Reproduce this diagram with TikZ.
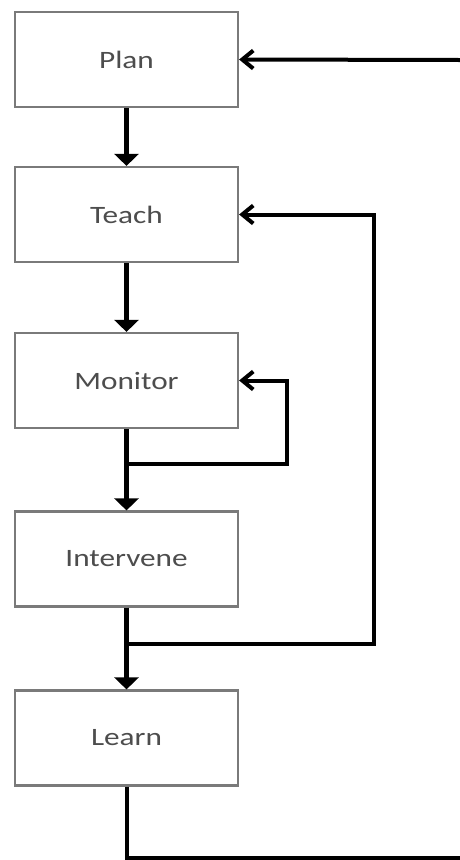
\documentclass[tikz,border=0pt]{standalone}
\usepackage{fontspec}
\newfontfamily\boxfont[FakeStretch=1.25]{Carlito}
\usetikzlibrary{arrows.meta}
\definecolor{boxline}{HTML}{7A7A7A}
\definecolor{boxtext}{HTML}{4D4D4D}
\begin{document}
\begin{tikzpicture}[x=1pt,y=-1pt,
  stage/.style={draw=boxline, line width=2.2pt, fill=white,
    minimum width=223pt, minimum height=95pt, inner sep=0pt,
    font=\boxfont\fontsize{25}{28}\selectfont, text=boxtext},
  flow/.style={line width=4.5pt, -{Triangle[width=24pt,length=12pt]}},
  back/.style={line width=4pt, -{Straight Barb[length=11pt,width=18pt]}},
  plain/.style={line width=4pt}]
  \useasboundingbox (0,0) rectangle (459,860);

  % the five stages of the cycle
  \node[stage] (plan)      at (126.5,59.5)  {Plan};
  \node[stage] (teach)     at (126.5,214.5) {Teach};
  \node[stage] (monitor)   at (126.5,380.5) {Monitor};
  \node[stage] (intervene) at (126.5,559)   {Intervene};
  \node[stage] (learn)     at (126.5,738)   {Learn};

  % branch points and off-page ends of the outer loop
  \coordinate (jM) at ([yshift=-35pt]monitor.south);
  \coordinate (jI) at ([yshift=-36pt]intervene.south);
  \coordinate (exitR)  at (460,858);
  \coordinate (entryR) at (460,60);

  % main downward flow
  \draw[flow] (plan.south) -- (teach.north);
  \draw[flow] (teach.south) -- (monitor.north);
  \draw[flow] (monitor.south) -- (intervene.north);
  \draw[flow] (intervene.south) -- (learn.north);

  % feedback loops
  \draw[back] (jM) -| ([xshift=48pt]monitor.east) -- (monitor.east);
  \draw[back] (jI) -| ([xshift=135pt]teach.east) -- (teach.east);
  \draw[plain] (learn.south) |- (exitR);
  \draw[back] (entryR) -- (plan.east);
\end{tikzpicture}
\end{document}
